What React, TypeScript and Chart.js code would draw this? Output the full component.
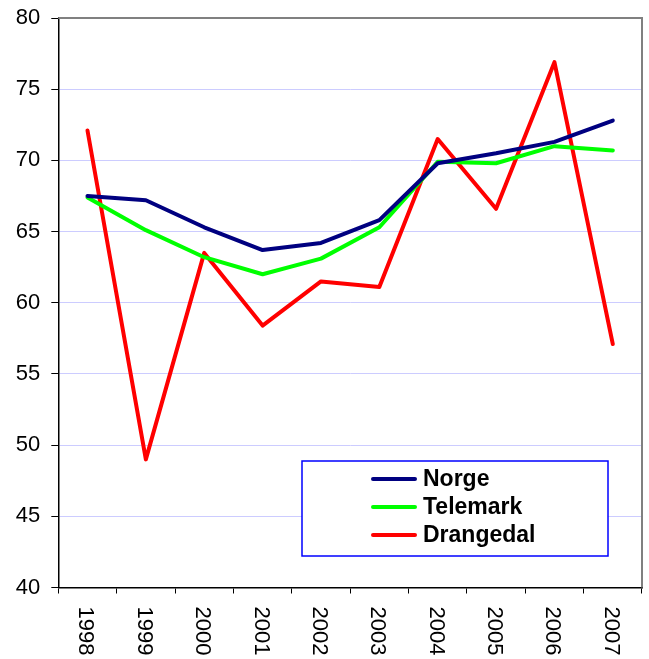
import React, { useEffect, useRef } from "react";
import { Chart, registerables } from "chart.js";

Chart.register(...registerables);

const years = ["1998", "1999", "2000", "2001", "2002", "2003", "2004", "2005", "2006", "2007"];
const norge = [67.5, 67.2, 65.3, 63.7, 64.2, 65.8, 69.8, 70.5, 71.3, 72.8];
const telemark = [67.4, 65.1, 63.2, 62.0, 63.1, 65.3, 69.9, 69.8, 71.0, 70.7];
const drangedal = [72.1, 49.0, 63.5, 58.4, 61.5, 61.1, 71.5, 66.6, 76.9, 57.1];
const seriesNames = ["Norge", "Telemark", "Drangedal"];
const seriesColors = ["#000080", "#00ff00", "#ff0000"];
const yMin = 40;
const yMax = 80;
const yStep = 5;

const FONT = '"Liberation Sans", Arial, sans-serif';

const customPlugin = {
  id: "custom",
  beforeDatasetsDraw(chart: any) {
    const { ctx, chartArea } = chart;
    ctx.save();
    ctx.strokeStyle = "#808080";
    ctx.lineWidth = 2;
    ctx.beginPath();
    ctx.moveTo(chartArea.left, chartArea.top);
    ctx.lineTo(chartArea.right, chartArea.top);
    ctx.lineTo(chartArea.right, chartArea.bottom);
    ctx.stroke();
    ctx.restore();
  },
  afterDraw(chart: any) {
    const { ctx } = chart;
    const xs = chart.scales.x;
    ctx.save();
    ctx.fillStyle = "#000";
    ctx.font = `22px ${FONT}`;
    ctx.textAlign = "left";
    ctx.textBaseline = "middle";
    years.forEach((lab, i) => {
      const x = xs.getPixelForValue(i);
      ctx.save();
      ctx.translate(x - 2, xs.top + 19);
      ctx.rotate(Math.PI / 2);
      ctx.fillText(lab, 0, 0);
      ctx.restore();
    });
    const bx = 302, by = 461, bw = 306, bh = 95;
    ctx.fillStyle = "#ffffff";
    ctx.fillRect(bx, by, bw, bh);
    ctx.strokeStyle = "#0000ff";
    ctx.lineWidth = 1.5;
    ctx.strokeRect(bx, by, bw, bh);
    const rows = [479, 507, 535];
    ctx.font = `bold 23px ${FONT}`;
    chart.data.datasets.forEach((ds: any, i: number) => {
      ctx.strokeStyle = ds.borderColor;
      ctx.lineWidth = 4;
      ctx.lineCap = "round";
      ctx.beginPath();
      ctx.moveTo(373, rows[i]);
      ctx.lineTo(415, rows[i]);
      ctx.stroke();
      ctx.fillStyle = "#000";
      ctx.textBaseline = "middle";
      ctx.fillText(ds.label, 423, rows[i] + 1);
    });
    ctx.restore();
  },
};

export default function App() {
  const ref = useRef<HTMLCanvasElement>(null);
  useEffect(() => {
    if (!ref.current) return;
    const data = [norge, telemark, drangedal];
    const chart = new Chart(ref.current, {
      type: "line",
      data: {
        labels: years,
        datasets: seriesNames.map((name, i) => ({
          label: name,
          data: data[i],
          borderColor: seriesColors[i],
          backgroundColor: seriesColors[i],
          borderWidth: 4,
          pointRadius: 0,
          tension: 0,
          borderJoinStyle: "round" as const,
          borderCapStyle: "round" as const,
        })),
      },
      options: {
        animation: false,
        responsive: false,
        maintainAspectRatio: false,
        layout: { padding: { top: 18, right: 7, left: 0, bottom: 0 } },
        plugins: {
          legend: { display: false },
          tooltip: { enabled: false },
        },
        scales: {
          x: {
            type: "category",
            offset: true,
            grid: {
              offset: true,
              drawOnChartArea: false,
              drawTicks: true,
              tickLength: 6,
              tickColor: "#000",
            },
            border: { color: "#000", width: 1.5 },
            ticks: { display: false },
            afterFit: (s: any) => {
              s.height = 71.5;
              s.paddingLeft = 0;
              s.paddingRight = 0;
            },
          },
          y: {
            min: yMin,
            max: yMax,
            grid: {
              color: (c: any) => (c.tick && c.tick.value === yMax ? "rgba(0,0,0,0)" : "#ccccff"),
              tickColor: "#000",
              tickLength: 7,
              lineWidth: 1,
            },
            border: { color: "#000", width: 1.5 },
            ticks: {
              stepSize: yStep,
              color: "#000",
              padding: 11,
              font: { family: FONT, size: 22 },
            },
            afterFit: (s: any) => {
              s.width = 58.3;
              s.paddingTop = 0;
              s.paddingBottom = 0;
            },
          },
        },
      },
      plugins: [customPlugin],
    });
    return () => chart.destroy();
  }, []);
  return (
    <div style={{ position: "fixed", left: 0, top: 0, width: 649, height: 659, background: "#fff" }}>
      <canvas ref={ref} width={649} height={659} style={{ width: 649, height: 659 }} />
    </div>
  );
}
